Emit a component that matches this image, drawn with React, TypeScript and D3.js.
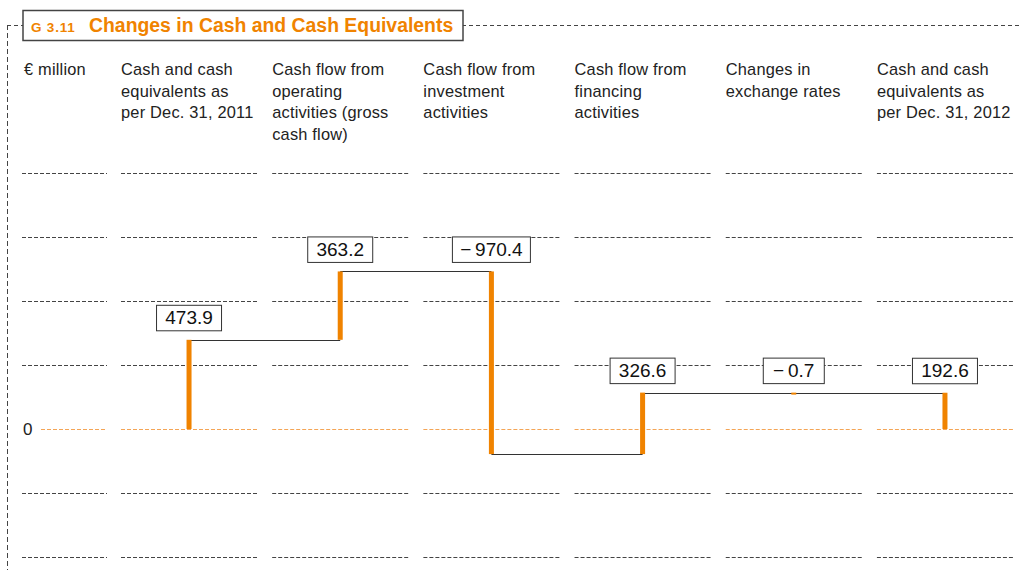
import React from 'react';
import * as d3 from 'd3';

// column headers (one array of lines per column)
const categories = [
  ['Cash and cash', 'equivalents as', 'per Dec. 31, 2011'],
  ['Cash flow from', 'operating', 'activities (gross', 'cash flow)'],
  ['Cash flow from', 'investment', 'activities'],
  ['Cash flow from', 'financing', 'activities'],
  ['Changes in', 'exchange rates'],
  ['Cash and cash', 'equivalents as', 'per Dec. 31, 2012'],
];
const values = [473.9, 363.2, -970.4, 326.6, -0.7, 192.6];
const isTotal = [true, false, false, false, false, true];
const valueLabels = ['473.9', '363.2', '\u2212\u2009970.4', '326.6', '\u2212\u20090.7', '192.6'];
const gridValues = [-680, -340, 0, 340, 680, 1020, 1360];

const ORANGE = '#f08300';
const FONT = '"Liberation Sans", Arial, Helvetica, sans-serif';

const W = 1021;
const H = 570;

const App = () => {
  const x = d3.scaleBand<number>()
    .domain(d3.range(values.length))
    .range([121, 1013])
    .paddingInner(0.1)
    .paddingOuter(0);
  const y = d3.scaleLinear().domain([-680, 1360]).range([557, 173]);

  // waterfall steps
  let run = 0;
  const steps = values.map((v, i) => {
    const start = isTotal[i] ? 0 : run;
    const end = isTotal[i] ? v : run + v;
    run = end;
    return { start, end, i };
  });

  const bw = x.bandwidth();
  const cx = (i: number) => (x(i) as number) + bw / 2;
  const barW = 5;

  const boxW = [65, 65, 78, 65, 61, 65];

  return (
    <svg width={W} height={H} style={{ position: 'absolute', left: 0, top: 0, fontFamily: FONT }}>
      {/* frame */}
      <line x1={7} x2={W} y1={25.5} y2={25.5} stroke="#444" strokeDasharray="4,3" />
      <line x1={7.5} x2={7.5} y1={25} y2={H} stroke="#444" strokeDasharray="5,3" />
      <rect x={23} y={10.5} width={440} height={30} fill="#fff" stroke="#444" strokeWidth={1.5} />
      <text x={31} y={32} fill={ORANGE} fontWeight="bold">
        <tspan fontSize={13.5} letterSpacing={0.8}>G 3.11</tspan>
        <tspan x={89} fontSize={19.4}>Changes in Cash and Cash Equivalents</tspan>
      </text>

      {/* headers */}
      <text x={24} y={75} fontSize={16.4} letterSpacing={0.2} fill="#222">€ million</text>
      {categories.map((lines, i) => (
        <text key={i} x={x(i)} y={75} fontSize={16.4} letterSpacing={0.2} fill="#222">
          {lines.map((l, j) => (
            <tspan key={j} x={x(i)} dy={j === 0 ? 0 : 21.5}>{l}</tspan>
          ))}
        </text>
      ))}

      {/* gridlines */}
      {gridValues.map(g => (
        <g key={g}>
          {[[g === 0 ? 41 : 22, 107] as [number, number]].concat(
            d3.range(values.length).map(i => [x(i) as number, (x(i) as number) + bw] as [number, number])
          ).map(([a, b], k) => (
            <line key={k} x1={a} x2={b} y1={Math.round(y(g)) + 0.5} y2={Math.round(y(g)) + 0.5}
              stroke={g === 0 ? '#f4a556' : '#444'} strokeDasharray="4,2" />
          ))}
        </g>
      ))}
      <text x={23} y={y(0)} dy="0.36em" fontSize={17} fill="#222">0</text>

      {/* connectors */}
      {steps.slice(0, -1).map((s, i) => (
        <line key={i} x1={cx(i)} x2={cx(i + 1)} y1={Math.round(y(s.end)) + 0.5} y2={Math.round(y(s.end)) + 0.5}
          stroke="#333" strokeWidth={1.2} />
      ))}

      {/* bars */}
      {steps.map(s => (
        <rect key={s.i} x={cx(s.i) - barW / 2} width={barW}
          y={y(Math.max(s.start, s.end))}
          height={Math.max(2, Math.abs(y(s.start) - y(s.end)))}
          fill={ORANGE} />
      ))}

      {/* value labels */}
      {steps.map(s => {
        const top = y(Math.max(s.start, s.end));
        const w = boxW[s.i];
        return (
          <g key={s.i} transform={`translate(${cx(s.i)},${top - 9})`}>
            <rect x={-w / 2} y={-25.5} width={w} height={25.5} fill="#fff" stroke="#333" strokeWidth={1} />
            <text x={0} y={-6.5} textAnchor="middle" fontSize={19} fill="#111">{valueLabels[s.i]}</text>
          </g>
        );
      })}
    </svg>
  );
};

export default App;
